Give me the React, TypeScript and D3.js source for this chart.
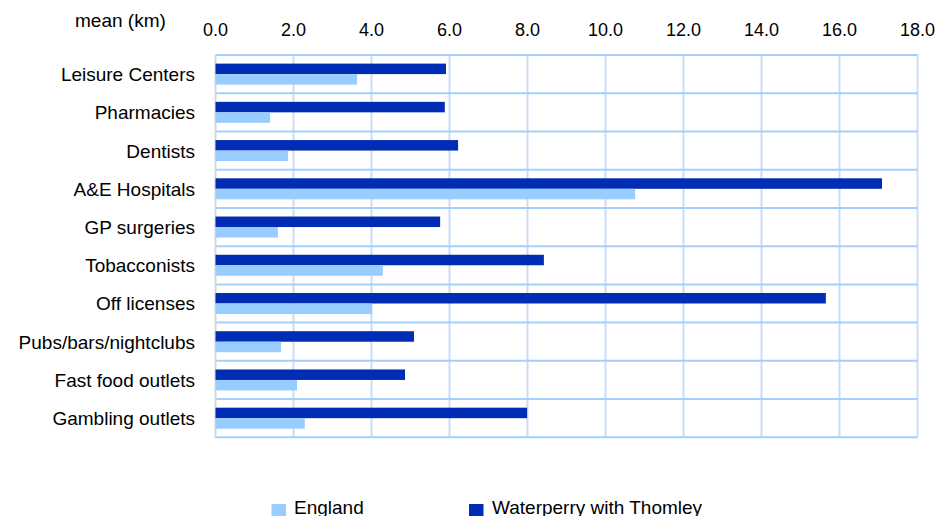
import React from "react";
import * as d3 from "d3";

const categories = [
  "Leisure Centers",
  "Pharmacies",
  "Dentists",
  "A&E Hospitals",
  "GP surgeries",
  "Tobacconists",
  "Off licenses",
  "Pubs/bars/nightclubs",
  "Fast food outlets",
  "Gambling outlets",
];
const englandValues = [3.63, 1.4, 1.86, 10.76, 1.6, 4.29, 4.01, 1.68, 2.09, 2.29];
const waterperryValues = [5.91, 5.88, 6.22, 17.09, 5.76, 8.42, 15.65, 5.09, 4.86, 7.99];
const xTicks = [0, 2, 4, 6, 8, 10, 12, 14, 16, 18];
const seriesNames = ["England", "Waterperry with Thomley"];

const W = 937;
const H = 516;
const left = 215.5;
const right = 917.5;
const top = 55;
const bottom = 437.3;

const DARK = "#002db3";
const LIGHT = "#99ccff";

export default function App() {
  const x = d3.scaleLinear().domain([0, 18]).range([left, right]);
  const y = d3.scaleBand<string>().domain(categories).range([top, bottom]);
  const inner = d3
    .scaleBand<string>()
    .domain(["w", "e"])
    .range([0, y.bandwidth()])
    .paddingOuter(0.82)
    .paddingInner(0);
  const font = "Liberation Sans, Arial, sans-serif";
  return (
    <svg
      width={W}
      height={H}
      style={{ position: "absolute", left: 0, top: 0, background: "#fff" }}
      fontFamily={font}
    >
      <rect x={0} y={0} width={W} height={H} fill="#fff" />
      {/* vertical gridlines */}
      {xTicks.slice(1).map((t) => (
        <line
          key={"v" + t}
          x1={x(t)}
          x2={x(t)}
          y1={top}
          y2={bottom}
          stroke="#c9ddf5"
          strokeWidth={2}
        />
      ))}
      {/* horizontal lines */}
      {categories.map((c) => (
        <line
          key={"h" + c}
          x1={left}
          x2={right}
          y1={y(c)!}
          y2={y(c)!}
          stroke="#a3cffa"
          strokeWidth={2}
        />
      ))}
      <line x1={left} x2={right} y1={bottom} y2={bottom} stroke="#a3cffa" strokeWidth={2} />
      <line x1={left} x2={left} y1={top} y2={bottom + 1} stroke="#d4d9e0" strokeWidth={2} />
      {/* bars */}
      {categories.map((c, i) => (
        <g key={"b" + c}>
          <rect
            x={x(0)}
            y={y(c)! + inner("w")!}
            width={x(waterperryValues[i]) - x(0)}
            height={inner.bandwidth()}
            fill={DARK}
          />
          <rect
            x={x(0)}
            y={y(c)! + inner("e")!}
            width={x(englandValues[i]) - x(0)}
            height={inner.bandwidth()}
            fill={LIGHT}
          />
        </g>
      ))}
      {/* x tick labels */}
      {xTicks.map((t) => (
        <text
          key={"t" + t}
          x={x(t)}
          y={36}
          textAnchor="middle"
          fontSize={18}
          fill="#000"
        >
          {t.toFixed(1)}
        </text>
      ))}
      <text x={75} y={26.5} fontSize={19} fill="#000">
        mean (km)
      </text>
      {/* category labels */}
      {categories.map((c) => (
        <text
          key={"l" + c}
          x={195}
          y={y(c)! + y.bandwidth() / 2 + 7}
          textAnchor="end"
          fontSize={19}
          fill="#000"
        >
          {c}
        </text>
      ))}
      {/* legend */}
      <rect x={271.5} y={504} width={14.5} height={14} fill={LIGHT} />
      <text x={294} y={514} fontSize={19} fill="#000">
        {seriesNames[0]}
      </text>
      <rect x={469} y={504} width={14.5} height={14} fill={DARK} />
      <text x={492} y={514} fontSize={19} fill="#000">
        {seriesNames[1]}
      </text>
    </svg>
  );
}
